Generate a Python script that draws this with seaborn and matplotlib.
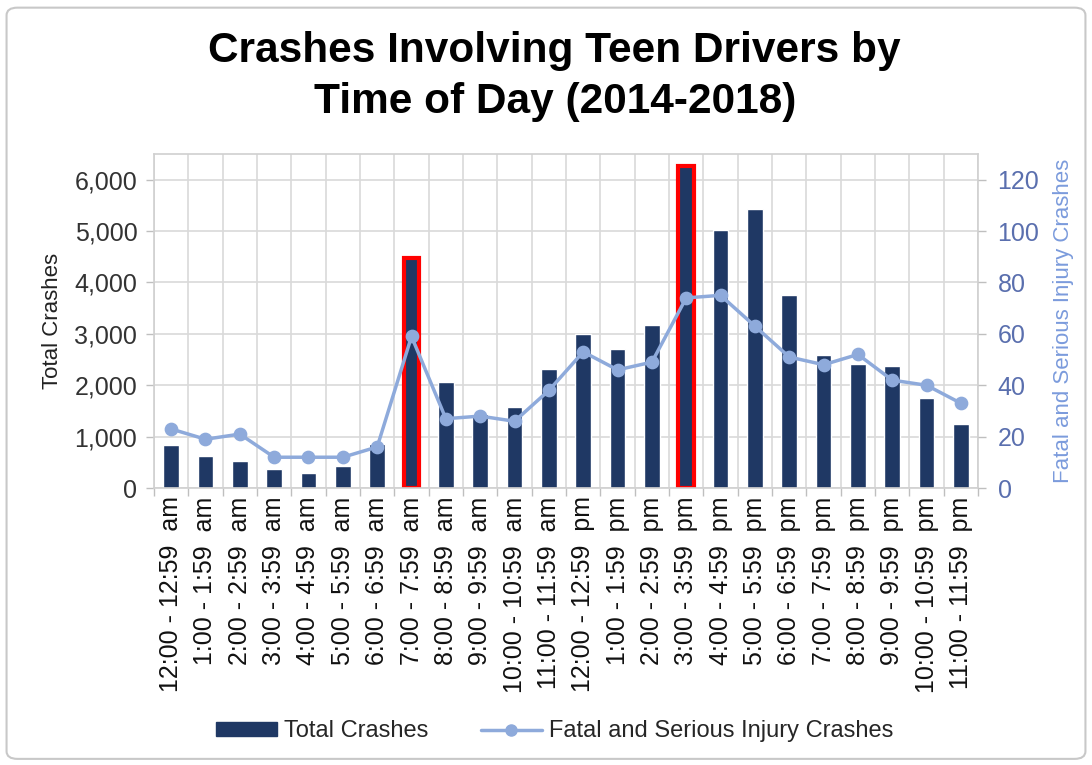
import numpy as np
import pandas as pd
import matplotlib
matplotlib.use("Agg")
import matplotlib.pyplot as plt
from matplotlib.patches import Patch, FancyBboxPatch
from matplotlib.lines import Line2D
from matplotlib.ticker import FuncFormatter, FixedLocator
import seaborn as sns

# Hourly time slots
time_slots = [
    "12:00 - 12:59  am", "1:00 - 1:59  am", "2:00 - 2:59  am", "3:00 - 3:59  am",
    "4:00 - 4:59  am", "5:00 - 5:59  am", "6:00 - 6:59  am", "7:00 - 7:59  am",
    "8:00 - 8:59  am", "9:00 - 9:59  am", "10:00 - 10:59  am", "11:00 - 11:59  am",
    "12:00 - 12:59  pm", "1:00 - 1:59  pm", "2:00 - 2:59  pm", "3:00 - 3:59  pm",
    "4:00 - 4:59  pm", "5:00 - 5:59  pm", "6:00 - 6:59  pm", "7:00 - 7:59  pm",
    "8:00 - 8:59  pm", "9:00 - 9:59  pm", "10:00 - 10:59  pm", "11:00 - 11:59  pm",
]

# Total crashes per hour (left axis)
total_crashes = [
    830, 630, 530, 370, 290, 420, 860, 4470,
    2060, 1440, 1580, 2310, 3000, 2700, 3180, 6270,
    5020, 5430, 3750, 2580, 2410, 2380, 1760, 1240,
]

# Fatal and serious injury crashes per hour (right axis)
fatal_serious = [
    23, 19, 21, 12, 12, 12, 16, 59,
    27, 28, 26, 38, 53, 46, 49, 74,
    75, 63, 51, 48, 52, 42, 40, 33,
]

# Peak hours outlined in red
highlighted_slots = ["7:00 - 7:59  am", "3:00 - 3:59  pm"]

df = pd.DataFrame({
    "slot": time_slots,
    "total": total_crashes,
    "fatal": fatal_serious,
})

NAVY = "#1f3864"
LIGHT_BLUE = "#8eaadb"
GRID = "#d9d9d9"
FONT = ["Liberation Sans", "DejaVu Sans"]

sns.set_theme(style="white")
plt.rcParams["font.family"] = FONT

fig = plt.figure(figsize=(10.92, 7.65), dpi=100)
fig.patch.set_facecolor("white")

# Rounded chart frame
frame = FancyBboxPatch((0.006, 0.008), 0.988, 0.982,
                       boxstyle="round,pad=0,rounding_size=0.01",
                       transform=fig.transFigure, facecolor="none",
                       edgecolor="#c8c8c8", linewidth=1.5)
fig.patches.append(frame)

ax = fig.add_axes([0.141, 0.362, 0.7547, 0.4367])
ax.set_facecolor("white")

sns.barplot(data=df, x="slot", y="total", color=NAVY, saturation=1,
            width=0.46, ax=ax, zorder=2)

for patch, slot in zip(ax.patches, df["slot"]):
    if slot in highlighted_slots:
        patch.set_edgecolor("#ff0000")
        patch.set_linewidth(3)

n = len(time_slots)
ax.set_xlim(-0.5, n - 0.5)
ax.set_ylim(0, 6500)
ax.yaxis.set_major_locator(FixedLocator(np.arange(0, 6001, 1000)))
ax.yaxis.set_major_formatter(FuncFormatter(lambda v, _: f"{int(v):,}"))

# Category boundary ticks and gridlines
ax.xaxis.set_minor_locator(FixedLocator(np.arange(-0.5, n, 1.0)))
ax.tick_params(axis="x", which="major", length=0, labelsize=18,
               labelrotation=90, pad=6, labelcolor="#111111")
ax.tick_params(axis="x", which="minor", length=6, width=1, color="#bfbfbf",
               direction="out", bottom=True)
ax.tick_params(axis="y", which="major", length=6, width=1, color="#bfbfbf",
               direction="out", left=True, labelsize=18, labelcolor="#333333", pad=6)
ax.grid(False)
ax.grid(True, which="minor", axis="x", color=GRID, linewidth=1.2)
ax.grid(True, which="major", axis="y", color=GRID, linewidth=1.2)
ax.set_axisbelow(True)
for sp in ax.spines.values():
    sp.set_color("#d0d0d0")
    sp.set_linewidth(1.2)

ax.set_xlabel("")
ax.set_ylabel("Total Crashes", fontsize=16, color="#222222", labelpad=8)

# Secondary axis for fatal and serious injury crashes
ax2 = ax.twinx()
sns.pointplot(data=df, x="slot", y="fatal", color=LIGHT_BLUE, ax=ax2,
              markers="o", markersize=8, linewidth=2.5, errorbar=None)
ax2.set_xlim(-0.5, n - 0.5)
ax2.set_ylim(0, 130)
ax2.yaxis.set_major_locator(FixedLocator(np.arange(0, 121, 20)))
ax2.tick_params(axis="y", length=6, width=1, color="#bfbfbf", direction="out",
                right=True, labelsize=18, labelcolor="#5a6fae", pad=8)
ax2.grid(False)
for sp in ax2.spines.values():
    sp.set_visible(False)
ax2.set_xlabel("")
ax2.set_ylabel("Fatal and Serious Injury Crashes", fontsize=16,
               color="#7b9bdc", labelpad=10)

# Title
fig.text(0.508, 0.9, "Crashes Involving Teen Drivers by\nTime of Day (2014-2018)",
         ha="center", va="center", fontsize=30.5, fontweight="bold",
         color="black", linespacing=1.38, family=FONT)

# Legend
handles = [
    Patch(facecolor=NAVY, edgecolor=NAVY, label="Total Crashes"),
    Line2D([0], [0], color=LIGHT_BLUE, lw=2.5, marker="o", markersize=8,
           label="Fatal and Serious Injury Crashes"),
]
fig.legend(handles=handles, loc="center", bbox_to_anchor=(0.508, 0.044),
           ncol=2, frameon=False, fontsize=17, handlelength=2.6,
           handleheight=0.5, handletextpad=0.3, columnspacing=2.2)

fig.savefig("out.png", dpi=100, facecolor="white")
